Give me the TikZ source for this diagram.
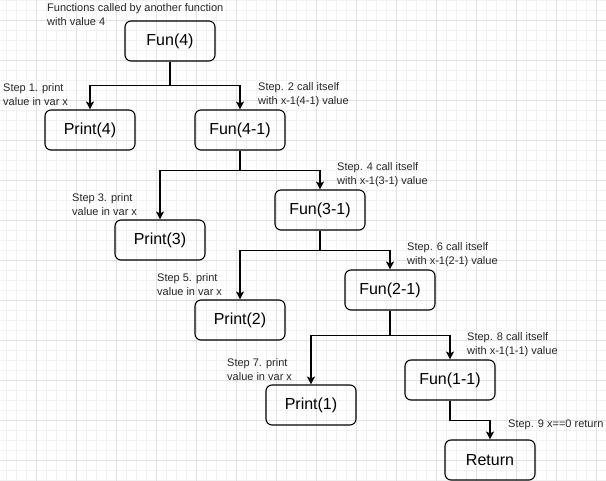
\documentclass[tikz,border=0pt]{standalone}
\usepackage{fontspec}
\setmainfont{Liberation Sans}
\usetikzlibrary{arrows.meta}
\definecolor{gridminor}{HTML}{F1F1F1}
\definecolor{gridmajor}{HTML}{E0E0E0}

\begin{document}
\begin{tikzpicture}[x=1pt,y=-1pt,
    callbox/.style={draw,rounded corners=6pt,line width=1.1pt,minimum width=90pt,
      minimum height=40pt,inner sep=0pt,font=\fontsize{16}{19}\selectfont},
    steptext/.style={anchor=west,align=left,inner sep=0pt,text=black!85,
      font=\fontsize{11}{14}\selectfont},
    callarrow/.style={line width=1.1pt,-{Stealth[length=8pt,width=8pt,inset=2pt]}}]
    \useasboundingbox (0,0) rectangle (606,481);
    \begin{scope}
      \foreach \i in {0,...,60}{
        \draw[gridminor,line width=0.8pt] (6+10*\i,0) -- (6+10*\i,481);
       }
      \foreach \i in {0,...,48}{
        \draw[gridminor,line width=0.8pt] (0,10*\i) -- (606,10*\i);
       }
      \foreach \i in {0,...,14}{
        \draw[gridmajor,line width=0.8pt] (36+40*\i,0) -- (36+40*\i,481);
       }
      \foreach \i in {0,...,11}{
        \draw[gridmajor,line width=0.8pt] (0,20+40*\i) -- (606,20+40*\i);
       }
    \end{scope}
    % calls
    \node[callbox] (fun4) at (170,41) {Fun(4)};
    \node[callbox] (print4) at (90,130) {Print(4)};
    \node[callbox] (fun41) at (240,130) {Fun(4-1)};
    \node[callbox] (print3) at (160,240) {Print(3)};
    \node[callbox] (fun31) at (320,210) {Fun(3-1)};
    \node[callbox] (print2) at (240,320) {Print(2)};
    \node[callbox] (fun21) at (390,290) {Fun(2-1)};
    \node[callbox] (print1) at (311,405) {Print(1)};
    \node[callbox] (fun11) at (450,380) {Fun(1-1)};
    \node[callbox] (ret) at (490,460) {Return};
    % arrows
    \draw[callarrow] (fun4.south) -- ++(0,24) -| (print4.north);
    \draw[callarrow] (fun4.south) -- ++(0,24) -| (fun41.north);
    \draw[callarrow] (fun41.south) -- ++(0,20) -| (print3.north);
    \draw[callarrow] (fun41.south) -- ++(0,20) -| (fun31.north);
    \draw[callarrow] (fun31.south) -- ++(0,20) -| (print2.north);
    \draw[callarrow] (fun31.south) -- ++(0,20) -| (fun21.north);
    \draw[callarrow] (fun21.south) -- ++(0,25) -| (print1.north);
    \draw[callarrow] (fun21.south) -- ++(0,25) -| (fun11.north);
    \draw[callarrow] (fun11.south) -- ++(0,20) -| (ret.north);
    % step labels
    \node[steptext] (lbl0) at (47,15) {Functions called by another function\\with value 4};
    \node[steptext] (lbl1) at (3,95) {Step 1. print\\value in var x};
    \node[steptext] (lbl2) at (258,95) {Step. 2 call itself\\with x-1(4-1) value};
    \node[steptext] (lbl3) at (72,205) {Step 3. print\\value in var x};
    \node[steptext] (lbl4) at (337,175) {Step. 4 call itself\\with x-1(3-1) value};
    \node[steptext] (lbl5) at (157,285) {Step 5. print\\value in var x};
    \node[steptext] (lbl6) at (407,255) {Step. 6 call itself\\with x-1(2-1) value};
    \node[steptext] (lbl7) at (227,370) {Step 7. print\\value in var x};
    \node[steptext] (lbl8) at (467,345) {Step. 8 call itself\\with x-1(1-1) value};
    \node[steptext] (lbl9) at (508,425) {Step. 9 x==0 return};
\end{tikzpicture}
\end{document}
